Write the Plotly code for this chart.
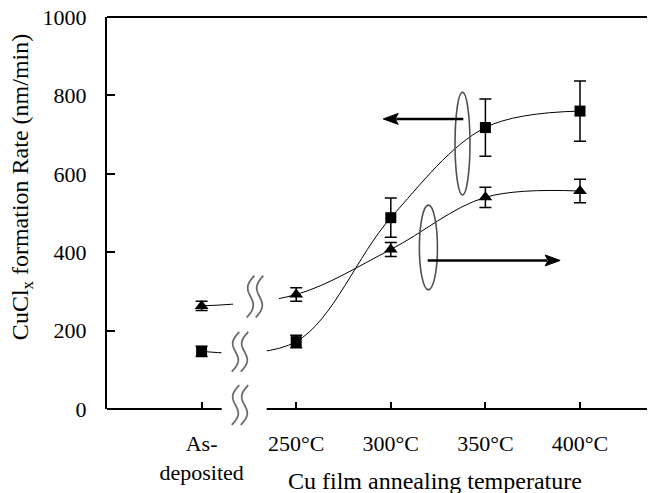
import numpy as np
import plotly.graph_objects as go

# ---- data ----
categories = ["As-<br>deposited", "250°C", "300°C", "350°C", "400°C"]
cat_pos = [1, 2, 3, 4, 5]
square_vals = [147, 172, 488, 718, 760]
square_err = [13, 16, 50, 73, 77]
tri_vals = [263, 292, 407, 540, 556]
tri_err = [12, 17, 18, 26, 30]

FONT = "Liberation Serif"
W, H = 652, 493
L, R, T, B = 107, 5, 15, 84
PW, PH = W - L - R, H - T - B
X_MAX = PW / 94.6
PX_X = X_MAX / PW          # data-x per pixel
PX_Y = 1000.0 / PH         # data-y per pixel


def pp(px, py):
    """pixel -> paper coordinates (decoration only)"""
    return (px - L) / PW, (H - B - py) / PH


fig = go.Figure()

fig.add_trace(go.Scatter(
    x=cat_pos, y=square_vals, mode="lines+markers",
    line=dict(color="black", width=1, shape="spline", smoothing=1),
    marker=dict(symbol="square", size=11, color="black"),
    error_y=dict(type="data", array=square_err, color="black", thickness=1.5, width=6),
    showlegend=False))
fig.add_trace(go.Scatter(
    x=cat_pos, y=tri_vals, mode="lines+markers",
    line=dict(color="black", width=1, shape="spline", smoothing=1),
    marker=dict(symbol="triangle-up", size=12, color="black"),
    error_y=dict(type="data", array=tri_err, color="black", thickness=1.5, width=6),
    showlegend=False))

shapes = []
# white masks to break the curves at the axis break
for (x0, x1, y0, y1) in [(233, 279, 283, 318), (221.5, 266.7, 334, 372)]:
    a0, b1 = pp(x0, y0)
    a1, b0 = pp(x1, y1)
    shapes.append(dict(type="rect", xref="paper", yref="paper", x0=a0, x1=a1, y0=b0, y1=b1,
                       fillcolor="white", line=dict(width=0), layer="above"))

# broken x axis line + top frame line
g0, _ = pp(221.7, 0)
g1, _ = pp(266.7, 0)
shapes.append(dict(type="line", xref="paper", yref="paper", x0=0, x1=g0, y0=0, y1=0,
                   line=dict(color="black", width=2), layer="above"))
shapes.append(dict(type="line", xref="paper", yref="paper", x0=g1, x1=1, y0=0, y1=0,
                   line=dict(color="black", width=2), layer="above"))
shapes.append(dict(type="line", xref="paper", yref="paper", x0=0, x1=1, y0=1, y1=1,
                   line=dict(color="black", width=2), layer="above"))


# wavy break marks
def wave(cx, top, h, s=7.5, A=4.5, n=48):
    pts = []
    for i in range(n + 1):
        t = i / n
        px = cx + s * (0.5 - t) - A * np.sin(2 * np.pi * t)
        py = top + t * h
        a, b = pp(px, py)
        pts.append(f"{a:.5f},{b:.5f}")
    return "M" + " L".join(pts)


for cx, top, h in [(250.5, 275, 42), (259.5, 275, 42),
                   (235.5, 331.5, 40), (244.5, 331.5, 40),
                   (235.5, 385, 40), (244.5, 385, 40)]:
    shapes.append(dict(type="path", xref="paper", yref="paper", path=wave(cx, top, h),
                       line=dict(color="#6a6a6a", width=1.8), layer="above"))

# ellipses around curves
shapes.append(dict(type="circle", xref="x", yref="y", x0=3.679, x1=3.837, y0=546, y1=808,
                   line=dict(color="#505050", width=1.6)))
shapes.append(dict(type="circle", xref="x", yref="y", x0=3.302, x1=3.493, y0=304, y1=520,
                   line=dict(color="#505050", width=1.6)))


# horizontal arrows (shaft + filled head), decoration
def arrow(x_tail, x_tip, y, head_len=15, head_h=11):
    d = 1 if x_tip > x_tail else -1
    base = x_tip - d * head_len * PX_X
    hy = head_h / 2 * PX_Y
    shapes.append(dict(type="line", xref="x", yref="y", x0=x_tail, x1=base + d * 2 * PX_X, y0=y, y1=y,
                       line=dict(color="black", width=2.5)))
    shapes.append(dict(type="path", xref="x", yref="y",
                       path=f"M{x_tip},{y} L{base},{y + hy} L{base + d * 3 * PX_X},{y} L{base},{y - hy} Z",
                       fillcolor="black", line=dict(color="black", width=1)))


arrow(3.767, 2.92, 740)
arrow(3.39, 4.79, 379)

annotations = [
    dict(x=pp(435, 0)[0], y=pp(0, 481)[1], xref="paper", yref="paper",
         text="Cu film annealing temperature", showarrow=False,
         font=dict(family=FONT, size=24, color="black"), xanchor="center", yanchor="middle"),
    dict(x=pp(22, 0)[0], y=pp(0, 186)[1], xref="paper", yref="paper",
         text="CuCl<sub>x</sub> formation Rate (nm/min)", showarrow=False, textangle=-90,
         font=dict(family=FONT, size=24, color="black"), xanchor="center", yanchor="middle"),
]

fig.update_layout(
    width=W, height=H,
    margin=dict(l=L, r=R, t=T, b=B),
    paper_bgcolor="white", plot_bgcolor="white",
    font=dict(family=FONT, size=22, color="black"),
    shapes=shapes, annotations=annotations,
    xaxis=dict(range=[0, X_MAX], tickvals=cat_pos, ticktext=categories,
               showline=False, ticks="inside", ticklen=7, tickwidth=1.5, tickcolor="black",
               showgrid=False, zeroline=False, ticklabelstandoff=19,
               tickfont=dict(family=FONT, size=22, color="black")),
    yaxis=dict(range=[0, 1000], dtick=200, showline=True, linewidth=2, linecolor="black",
               ticks="inside", ticklen=8, tickwidth=1.5, tickcolor="black",
               showgrid=False, zeroline=False, ticklabelstandoff=14,
               tickfont=dict(family=FONT, size=22, color="black")),
)

fig.write_html("out.html")
